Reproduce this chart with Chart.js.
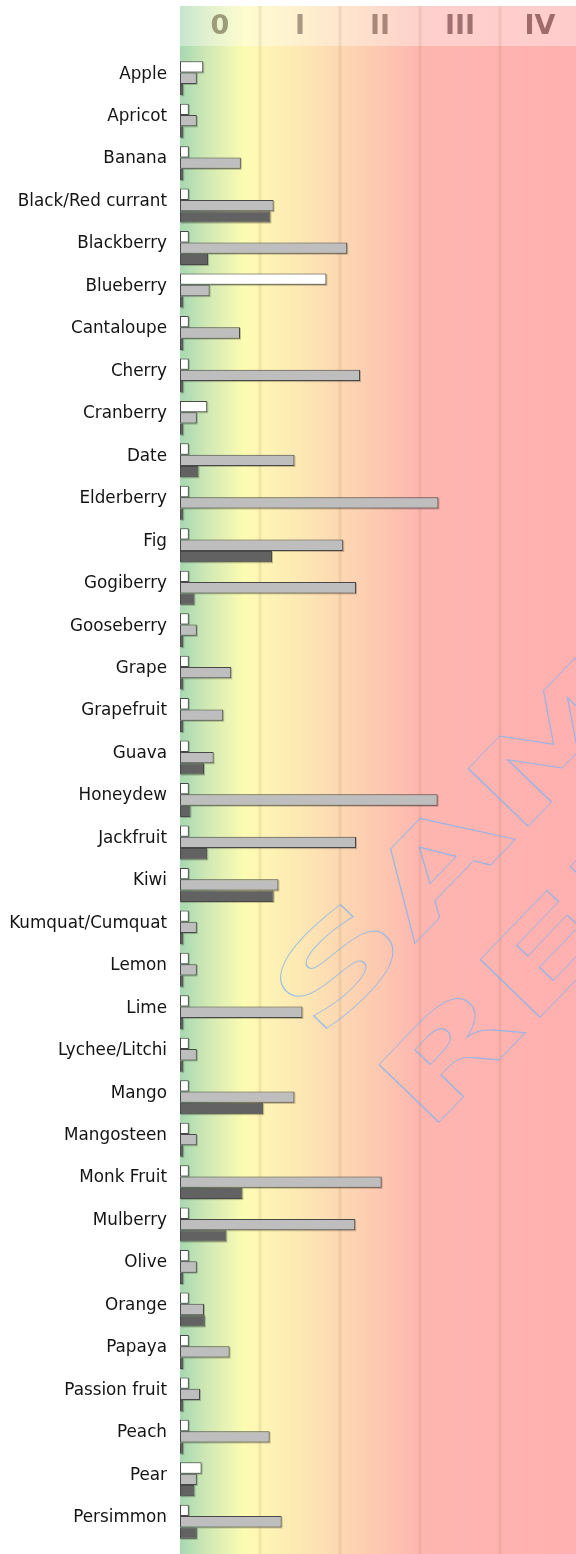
<!DOCTYPE html>
<html><head><meta charset="utf-8">
<script src="https://cdn.jsdelivr.net/npm/chart.js@4"></script>
<style>html,body{margin:0;padding:0;background:#fff}#wrap{width:576px;height:1554px;position:relative}</style>
</head><body><div id="wrap"><canvas id="c" width="576" height="1554"></canvas></div>
<script>
const categories = ['Apple','Apricot','Banana','Black/Red currant','Blackberry','Blueberry','Cantaloupe','Cherry','Cranberry','Date','Elderberry','Fig','Gogiberry','Gooseberry','Grape','Grapefruit','Guava','Honeydew','Jackfruit','Kiwi','Kumquat/Cumquat','Lemon','Lime','Lychee/Litchi','Mango','Mangosteen','Monk Fruit','Mulberry','Olive','Orange','Papaya','Passion fruit','Peach','Pear','Persimmon'];
const seriesWhite = [0.29,0.11,0.11,0.11,0.11,1.83,0.11,0.11,0.34,0.11,0.11,0.11,0.11,0.11,0.11,0.11,0.11,0.11,0.11,0.11,0.11,0.11,0.11,0.11,0.11,0.11,0.11,0.11,0.11,0.11,0.11,0.11,0.11,0.27,0.11];
const seriesGray = [0.21,0.21,0.76,1.17,2.09,0.37,0.75,2.25,0.21,1.43,3.23,2.04,2.20,0.21,0.64,0.54,0.42,3.22,2.20,1.23,0.21,0.21,1.53,0.21,1.43,0.21,2.52,2.19,0.21,0.30,0.62,0.25,1.12,0.21,1.27];
const seriesDark = [0.04,0.04,0.04,1.13,0.35,0.04,0.04,0.04,0.04,0.23,0.04,1.15,0.18,0.04,0.04,0.04,0.30,0.13,0.34,1.17,0.04,0.04,0.04,0.04,1.04,0.04,0.78,0.58,0.04,0.31,0.04,0.04,0.04,0.18,0.21];
const bandLabels = ['0','I','II','III','IV'];
const bandGridValues = [1,2,3,4];
const axisMax = 4.95;
const watermarkLines = ['SAMPLE','REPORT'];

const bandNumeralColors = ['#9c9c7a','#aa9882','#a8887a','#a07272','#a06a6a'];
const gradStops = [[0,'#a6d8b2'],[0.35,'#d2e9b4'],[0.8,'#fcfcb2'],[1.0,'#fef6b4'],[1.5,'#fde8b4'],[2.0,'#fdd8b2'],[2.5,'#fdc8b0'],[3.0,'#feb6b0'],[4.95,'#ffb0b0']];

function makeGrad(ctx, xs){
  const g = ctx.createLinearGradient(xs.getPixelForValue(0),0,xs.getPixelForValue(axisMax),0);
  gradStops.forEach(s=>g.addColorStop(s[0]/axisMax, s[1]));
  return g;
}

const decor = {
  id:'decor',
  beforeDatasetsDraw(chart){
    const ctx = chart.ctx, xs = chart.scales.x;
    const L = xs.left, R = chart.width;
    ctx.save();
    ctx.fillStyle = makeGrad(ctx, xs);
    ctx.fillRect(L, 46, R-L, chart.height-46);
    ctx.fillStyle = makeGrad(ctx, xs);
    ctx.fillRect(L, 6, R-L, 40);
    ctx.fillStyle = 'rgba(255,255,255,0.36)';
    ctx.fillRect(L, 6, R-L, 40);
    ctx.fillStyle = 'rgba(140,90,60,0.11)';
    bandGridValues.forEach(v=>{
      const px = xs.getPixelForValue(v);
      ctx.fillRect(px-1.5, 6, 3, chart.height-6);
    });
    ctx.font = 'bold 27px "DejaVu Sans"';
    ctx.textAlign = 'center';
    ctx.textBaseline = 'middle';
    bandLabels.forEach((t,i)=>{
      ctx.fillStyle = bandNumeralColors[i];
      ctx.fillText(t, xs.getPixelForValue(i+0.5), 26.5);
    });
    ctx.fillStyle = 'rgba(0,0,0,0.22)';
    chart.data.datasets.forEach((d,di)=>{
      chart.getDatasetMeta(di).data.forEach(el=>{
        const x0 = Math.min(el.base, el.x), x1 = Math.max(el.base, el.x);
        ctx.fillRect(x0+1, el.y-el.height/2+1, x1-x0, el.height);
      });
    });
    ctx.restore();
  },
  afterDatasetsDraw(chart){
    const ctx = chart.ctx, xs = chart.scales.x;
    ctx.save();
    ctx.beginPath(); ctx.rect(xs.left, 46, chart.width-xs.left, chart.height-46); ctx.clip();
    const ang = -46*Math.PI/180, sx = 1.66, F = 114;
    ctx.font = 'bold '+F+'px "DejaVu Sans"';
    const u = [Math.cos(ang), Math.sin(ang)];
    const sAdv = ctx.measureText(watermarkLines[0].charAt(0)).width*sx;
    const o1 = [414.3 - sAdv*u[0], 944 - sAdv*u[1]];
    const lsbR = -ctx.measureText(watermarkLines[1]).actualBoundingBoxLeft*sx;
    const o2 = [438.4 - lsbR*u[0], 1122.7 - lsbR*u[1]];
    ctx.strokeStyle = 'rgba(125,180,240,0.8)';
    ctx.lineWidth = 0.8;
    [[watermarkLines[0],o1],[watermarkLines[1],o2]].forEach(([t,o])=>{
      ctx.save();
      ctx.translate(o[0],o[1]); ctx.rotate(ang); ctx.scale(sx,1);
      ctx.textAlign='left'; ctx.textBaseline='alphabetic';
      ctx.strokeText(t,0,0);
      ctx.restore();
    });
    ctx.restore();
  }
};

const barBorder = '#484848';
new Chart(document.getElementById('c'), {
  type:'bar',
  data:{
    labels: categories,
    datasets:[
      {data: seriesWhite, backgroundColor:'#ffffff', borderColor:barBorder, borderWidth:1, borderSkipped:false},
      {data: seriesGray, backgroundColor:'#bebebe', borderColor:barBorder, borderWidth:1, borderSkipped:false},
      {data: seriesDark, backgroundColor:'#626262', borderColor:barBorder, borderWidth:1, borderSkipped:false}
    ]
  },
  options:{
    indexAxis:'y',
    responsive:false,
    animation:false,
    events:[],
    layout:{padding:{top:57,bottom:11,left:0,right:0}},
    datasets:{bar:{barPercentage:1.0,categoryPercentage:0.8}},
    plugins:{legend:{display:false},tooltip:{enabled:false},title:{display:false}},
    scales:{
      x:{display:false,min:0,max:axisMax},
      y:{
        grid:{display:false,drawTicks:false},
        border:{display:false},
        ticks:{padding:13,labelOffset:-4,color:'#141414',font:{family:'"DejaVu Sans"',size:16.8},autoSkip:false},
        afterFit(s){ s.width = 180; s.paddingTop = 0; s.paddingBottom = 0; }
      }
    }
  },
  plugins:[decor]
});
</script>
</body></html>
